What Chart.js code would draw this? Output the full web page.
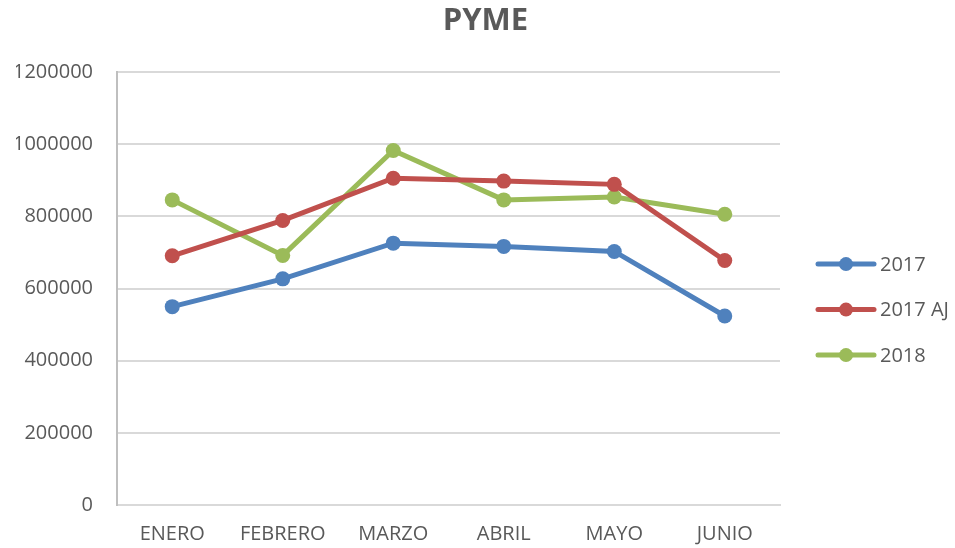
<!DOCTYPE html>
<html>
<head>
<meta charset="utf-8">
<script src="https://cdn.jsdelivr.net/npm/chart.js@4.4.1/dist/chart.umd.min.js"></script>
<style>
  body { margin: 0; background: #fff; }
  #wrap { width: 955px; height: 548px; }
</style>
</head>
<body>
<div id="wrap"><canvas id="myChart"></canvas></div>
<script>
// datos
const meses = ['ENERO', 'FEBRERO', 'MARZO', 'ABRIL', 'MAYO', 'JUNIO'];
const serie2017 = [550000, 627000, 726000, 717000, 703000, 524000];
const serie2017AJ = [691000, 789000, 906000, 898000, 889000, 678000];
const serie2018 = [846000, 692000, 983000, 846000, 854000, 806000];
const ticksY = [0, 200000, 400000, 600000, 800000, 1000000, 1200000];

const gris = '#595959';
const fuente = 'Open Sans';

// leyenda a la derecha (linea con punto, como en Excel)
const leyendaExcel = {
  id: 'leyendaExcel',
  afterDraw(chart) {
    const ctx = chart.ctx;
    const area = chart.chartArea;
    const x0 = area.right + 38;
    const yc = (area.top + area.bottom) / 2 + 21;
    const sets = chart.data.datasets;
    ctx.save();
    sets.forEach((ds, i) => {
      const y = yc + (i - 1) * 45.5;
      ctx.strokeStyle = ds.borderColor;
      ctx.lineWidth = 5;
      ctx.lineCap = 'round';
      ctx.beginPath();
      ctx.moveTo(x0, y);
      ctx.lineTo(x0 + 56, y);
      ctx.stroke();
      ctx.fillStyle = ds.borderColor;
      ctx.beginPath();
      ctx.arc(x0 + 28, y, 7, 0, Math.PI * 2);
      ctx.fill();
      ctx.fillStyle = gris;
      ctx.font = '20px "' + fuente + '"';
      ctx.textBaseline = 'middle';
      ctx.textAlign = 'left';
      ctx.fillText(ds.label, x0 + 62, y + 1);
    });
    ctx.restore();
  }
};

function serie(label, data, color) {
  return {
    label: label,
    data: data,
    borderColor: color,
    backgroundColor: color,
    borderWidth: 5,
    pointRadius: 7.5,
    pointHoverRadius: 7.5,
    pointBorderWidth: 0,
    tension: 0
  };
}

const ctx = document.getElementById('myChart');
new Chart(ctx, {
  type: 'line',
  data: {
    labels: meses,
    datasets: [
      serie('2017', serie2017, '#4F81BD'),
      serie('2017 AJ', serie2017AJ, '#C0504D'),
      serie('2018', serie2018, '#9BBB59')
    ]
  },
  options: {
    responsive: true,
    maintainAspectRatio: false,
    animation: false,
    devicePixelRatio: 1,
    layout: { padding: { left: 16 } },
    plugins: {
      legend: { display: false },
      tooltip: { enabled: false },
      title: {
        display: true,
        text: 'PYME',
        color: gris,
        font: { family: fuente, size: 31, weight: 'bold' },
        padding: { top: 3, bottom: 32 }
      }
    },
    scales: {
      x: {
        offset: true,
        grid: { display: false, drawTicks: false },
        border: { color: '#d9d9d9', width: 2 },
        ticks: {
          color: gris,
          font: { family: fuente, size: 20 },
          padding: 17,
          maxRotation: 0
        },
        afterFit(scale) { scale.height = 43; }
      },
      y: {
        min: 0,
        max: 1200000,
        afterBuildTicks(scale) {
          scale.ticks = ticksY.map(v => ({ value: v }));
        },
        grid: { color: '#d9d9d9', lineWidth: 2, drawTicks: false },
        border: { color: '#bfbfbf', width: 2 },
        ticks: {
          color: gris,
          font: { family: fuente, size: 20 },
          padding: 24,
          callback: v => String(v)
        },
        afterFit(scale) { scale.width = 101; }
      },
      // eje vacio a la derecha: deja sitio para la leyenda
      hueco: {
        type: 'linear',
        position: 'right',
        grid: { display: false, drawTicks: false },
        border: { display: false },
        ticks: { display: false },
        afterFit(scale) { scale.width = 175; }
      }
    }
  },
  plugins: [leyendaExcel]
});
</script>
</body>
</html>
